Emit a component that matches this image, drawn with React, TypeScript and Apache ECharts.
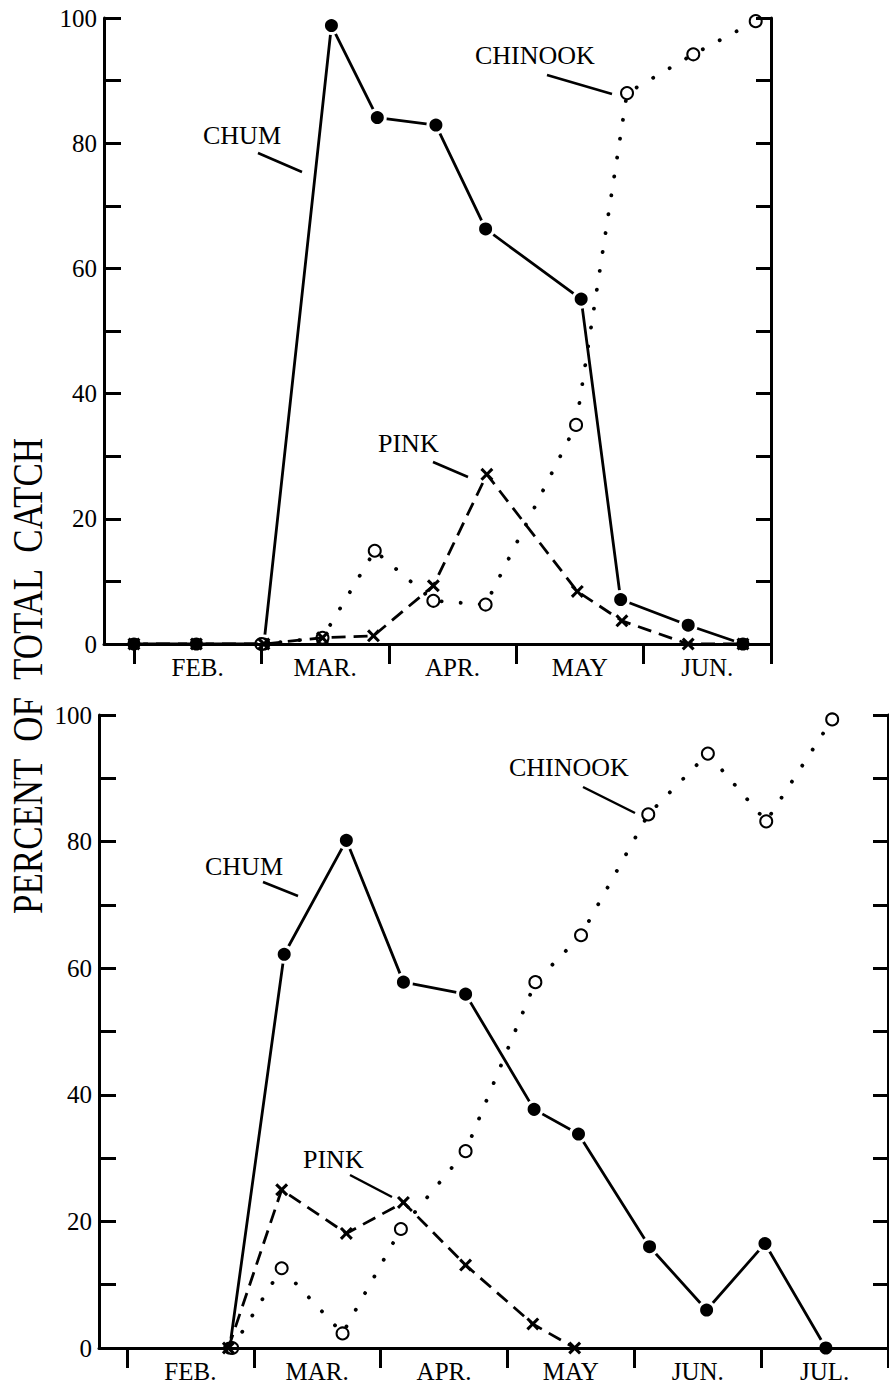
import React, { useEffect, useRef } from 'react';
import * as echarts from 'echarts';

// ---- data (x = month index: 1 = Feb 1, 2 = Mar 1, ...) ----
const MONTH_NAMES = ['FEB.', 'MAR.', 'APR.', 'MAY', 'JUN.', 'JUL.'];
const TOP_MONTH_TICKS = [1, 2, 3, 4, 5, 6];
const BOTTOM_MONTH_TICKS = [1, 2, 3, 4, 5, 6, 7];
const Y_TICKS_LABELLED = [0, 20, 40, 60, 80, 100];

// top panel
const CHUM_TOP_X = [1.0, 1.49, 2.02, 2.55, 2.91, 3.37, 3.76, 4.51, 4.82, 5.35, 5.78];
const CHUM_TOP_Y = [0, 0, 0, 98.8, 84.1, 82.9, 66.3, 55.1, 7.1, 3.0, 0];
const PINK_TOP_X = [1.0, 1.49, 2.02, 2.48, 2.88, 3.35, 3.77, 4.48, 4.83, 5.35, 5.78];
const PINK_TOP_Y = [0, 0, 0, 1.0, 1.3, 9.3, 27.1, 8.4, 3.7, 0, 0];
const CHINOOK_TOP_X = [2.0, 2.48, 2.89, 3.35, 3.76, 4.47, 4.87, 5.39, 5.88];
const CHINOOK_TOP_Y = [0, 1.0, 14.9, 6.9, 6.3, 35.0, 88.0, 94.2, 99.5];

// bottom panel
const CHUM_BOT_X = [1.81, 2.24, 2.73, 3.18, 3.67, 4.21, 4.56, 5.12, 5.57, 6.03, 6.51];
const CHUM_BOT_Y = [0, 62.2, 80.2, 57.8, 55.9, 37.7, 33.8, 16.0, 6.0, 16.5, 0];
const CHINOOK_BOT_X = [1.83, 2.22, 2.7, 3.16, 3.67, 4.22, 4.58, 5.11, 5.58, 6.04, 6.56];
const CHINOOK_BOT_Y = [0, 12.6, 2.3, 18.8, 31.1, 57.8, 65.2, 84.3, 93.9, 83.2, 99.3];
const PINK_BOT_X = [1.8, 2.22, 2.73, 3.18, 3.67, 4.2, 4.53];
const PINK_BOT_Y = [0, 25.0, 18.1, 23.0, 13.1, 3.8, 0];

const FONT = '"Liberation Serif", "Times New Roman", Times, serif';
const CROSS = 'path://M2,0 L6,4 L10,0 L12,2 L8,6 L12,10 L10,12 L6,8 L2,12 L0,10 L4,6 L0,2 Z';

const zip = (xs: number[], ys: number[]) => xs.map((x, i) => [x, ys[i]]);

function xAxis(gridIndex: number, min: number, max: number, ticks: number[]) {
  return {
    type: 'value',
    gridIndex,
    min,
    max,
    z: 5,
    axisLine: { show: true, onZero: false, lineStyle: { color: '#000', width: 3 } },
    axisTick: {
      show: true,
      inside: false,
      length: 20,
      customValues: ticks,
      lineStyle: { color: '#000', width: 3 },
    },
    axisLabel: {
      show: true,
      customValues: ticks.slice(0, -1).map((t) => t + 0.5),
      formatter: (v: number) => MONTH_NAMES[Math.round(v - 1.5)] || '',
      fontSize: 25,
      fontFamily: FONT,
      color: '#000',
      margin: 11,
    },
    splitLine: { show: false },
  };
}

function yAxis(gridIndex: number, position: 'left' | 'right') {
  return {
    type: 'value',
    gridIndex,
    min: 0,
    max: 100,
    interval: 10,
    position,
    z: 5,
    axisLine: { show: true, onZero: false, lineStyle: { color: '#000', width: 3 } },
    axisTick: {
      show: true,
      inside: true,
      length: position === 'left' ? 17 : 15,
      lineStyle: { color: '#000', width: 3 },
    },
    axisLabel: {
      show: position === 'left',
      formatter: (v: number) => (Y_TICKS_LABELLED.indexOf(v) >= 0 ? String(v) : ''),
      fontSize: 25,
      fontFamily: FONT,
      color: '#000',
      margin: 7,
    },
    splitLine: { show: false },
  };
}

function chum(data: number[][], xi: number, yi: number) {
  return {
    type: 'line',
    xAxisIndex: xi,
    yAxisIndex: yi,
    data,
    symbol: 'circle',
    symbolSize: 16,
    clip: false,
    z: 3,
    silent: true,
    itemStyle: { color: '#000', borderColor: '#fff', borderWidth: 3 },
    lineStyle: { color: '#000', width: 2.8, type: 'solid' },
    emphasis: { disabled: true },
  };
}
function chinook(data: number[][], xi: number, yi: number) {
  return {
    type: 'line',
    xAxisIndex: xi,
    yAxisIndex: yi,
    data,
    symbol: 'emptyCircle',
    symbolSize: 12,
    clip: false,
    z: 3.5,
    silent: true,
    itemStyle: { color: '#000', borderColor: '#000', borderWidth: 2.2 },
    lineStyle: { color: '#000', width: 3.8, type: [0.1, 19], cap: 'round' },
    emphasis: { disabled: true },
  };
}
function pink(data: number[][], xi: number, yi: number) {
  return {
    type: 'line',
    xAxisIndex: xi,
    yAxisIndex: yi,
    data,
    symbol: CROSS,
    symbolSize: 13,
    clip: false,
    z: 4,
    silent: true,
    itemStyle: { color: '#000' },
    lineStyle: { color: '#000', width: 2.8, type: [14, 8] },
    emphasis: { disabled: true },
  };
}

function label(text: string, x: number, y: number) {
  return {
    type: 'text',
    x,
    y,
    silent: true,
    style: {
      text,
      fill: '#000',
      font: `26px ${FONT}`,
      textAlign: 'left',
      textVerticalAlign: 'middle',
    },
  };
}
function leader(x1: number, y1: number, x2: number, y2: number) {
  return {
    type: 'line',
    silent: true,
    shape: { x1, y1, x2, y2 },
    style: { stroke: '#000', lineWidth: 2.5 },
  };
}

export default function App() {
  const ref = useRef<HTMLDivElement>(null);
  useEffect(() => {
    if (!ref.current) return;
    const chart = echarts.init(ref.current, undefined, { renderer: 'svg' });
    chart.setOption({
      animation: false,
      backgroundColor: '#fff',
      grid: [
        { left: 104, top: 18, width: 667, height: 626 },
        { left: 99, top: 715, width: 789, height: 633 },
      ],
      xAxis: [xAxis(0, 0.765, 6.0, TOP_MONTH_TICKS), xAxis(1, 0.78, 7.0, BOTTOM_MONTH_TICKS)],
      yAxis: [yAxis(0, 'left'), yAxis(0, 'right'), yAxis(1, 'left'), yAxis(1, 'right')],
      series: [
        chum(zip(CHUM_TOP_X, CHUM_TOP_Y), 0, 0),
        chinook(zip(CHINOOK_TOP_X, CHINOOK_TOP_Y), 0, 0),
        pink(zip(PINK_TOP_X, PINK_TOP_Y), 0, 0),
        chum(zip(CHUM_BOT_X, CHUM_BOT_Y), 1, 2),
        chinook(zip(CHINOOK_BOT_X, CHINOOK_BOT_Y), 1, 2),
        pink(zip(PINK_BOT_X, PINK_BOT_Y), 1, 2),
      ],
      graphic: [
        // top panel annotations
        label('CHUM', 203, 135),
        leader(258, 153, 302, 172),
        label('CHINOOK', 475, 55),
        leader(547, 75, 612, 94),
        label('PINK', 378, 443),
        leader(433, 462, 468, 477),
        // bottom panel annotations
        label('CHUM', 205, 866),
        leader(263, 882, 298, 896),
        label('CHINOOK', 509, 767),
        leader(583, 787, 635, 813),
        label('PINK', 303, 1159),
        leader(350, 1175, 392, 1197),
        // shared y-axis title
        {
          type: 'text',
          x: 28,
          y: 676,
          rotation: Math.PI / 2,
          scaleY: 1.2,
          silent: true,
          style: {
            text: 'PERCENT  OF  TOTAL  CATCH',
            fill: '#000',
            font: `35px ${FONT}`,
            textAlign: 'center',
            textVerticalAlign: 'middle',
          },
        },
      ],
    });
    return () => chart.dispose();
  }, []);
  return (
    <div
      ref={ref}
      style={{ position: 'absolute', left: 0, top: 0, width: 889, height: 1386, background: '#fff' }}
    />
  );
}
